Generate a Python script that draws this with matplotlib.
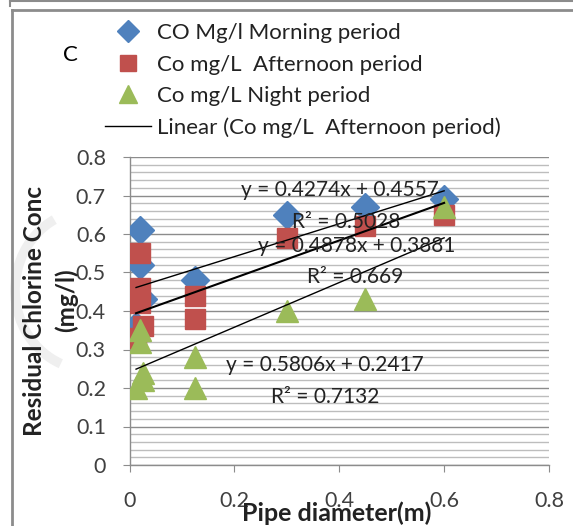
import matplotlib
matplotlib.use("Agg")
import matplotlib.pyplot as plt
import numpy as np
from matplotlib.lines import Line2D
from matplotlib.patches import Arc
from matplotlib.ticker import MultipleLocator, FuncFormatter

plt.rcParams['font.family'] = ['Lato', 'DejaVu Sans']

# Data
morning_x = [0.0125, 0.02, 0.02, 0.025, 0.125, 0.3, 0.45, 0.6]
morning_y = [0.36, 0.61, 0.52, 0.43, 0.48, 0.65, 0.67, 0.69]
afternoon_x = [0.0125, 0.02, 0.02, 0.02, 0.025, 0.125, 0.125, 0.3, 0.45, 0.6]
afternoon_y = [0.33, 0.55, 0.46, 0.42, 0.36, 0.44, 0.38, 0.59, 0.62, 0.65]
night_x = [0.0125, 0.02, 0.02, 0.025, 0.025, 0.125, 0.125, 0.3, 0.45, 0.6]
night_y = [0.20, 0.35, 0.32, 0.24, 0.22, 0.28, 0.20, 0.40, 0.43, 0.67]

# Trendline coefficients (from chart labels)
fit_labels = ["Morning", "Afternoon", "Night"]
slopes = [0.4274, 0.4878, 0.5806]
intercepts = [0.4557, 0.3881, 0.2417]
r2 = [0.5028, 0.669, 0.7132]
fit_range = [0.0125, 0.6]

blue = '#4F81BD'
red = '#C0504D'
green = '#9BBB59'

fig = plt.figure(figsize=(5.73, 5.26), dpi=100)
W, H = 573, 526

# faint watermark arc
wm = Arc((90 / W, 1 - 290 / H), 150 / W, 160 / H, theta1=115, theta2=250,
         color='#efefef', lw=7, transform=fig.transFigure)
fig.add_artist(wm)

ax = fig.add_axes([129.5 / W, 1 - 465 / H, (549 - 129.5) / W, (465 - 157) / H])
ax.patch.set_alpha(0)

ax.set_xlim(0, 0.8)
ax.set_ylim(0, 0.8)
ax.xaxis.set_major_locator(MultipleLocator(0.2))
ax.yaxis.set_major_locator(MultipleLocator(0.1))
ax.yaxis.set_minor_locator(MultipleLocator(0.02))
fmt = FuncFormatter(lambda v, p: '0' if abs(v) < 1e-9 else f'{v:.1f}')
ax.xaxis.set_major_formatter(fmt)
ax.yaxis.set_major_formatter(fmt)
ax.grid(axis='y', which='major', color='#8c8c8c', lw=1.0, zorder=0)
ax.grid(axis='y', which='minor', color='#bdbdbd', lw=1.0, zorder=0)
ax.set_axisbelow(True)

for s in ['top', 'right']:
    ax.spines[s].set_visible(False)
for s in ['left', 'bottom']:
    ax.spines[s].set_color('#8c8c8c')
    ax.spines[s].set_linewidth(1.0)
ax.tick_params(axis='both', which='major', direction='out', length=5, color='#8c8c8c',
               labelsize=15.5, labelcolor='#404040')
ax.tick_params(axis='y', which='minor', length=0)
ax.tick_params(axis='y', pad=12)
ax.tick_params(axis='x', pad=14)

ms = 15
ax.plot(morning_x, morning_y, 'D', color=blue, ms=ms * 0.95, mec=blue, zorder=3,
        label='CO Mg/l Morning period')
ax.plot(afternoon_x, afternoon_y, 's', color=red, ms=ms * 0.95, mec=red, zorder=4,
        label='Co mg/L  Afternoon period')
ax.plot(night_x, night_y, '^', color=green, ms=ms * 1.05, mec=green, zorder=5,
        label='Co mg/L Night period')

xf = np.array(fit_range)
lws = [1.0, 1.5, 1.0]
for m, b, lw in zip(slopes, intercepts, lws):
    ax.plot(xf, m * xf + b, color='black', lw=lw, zorder=6)

tkw = dict(fontsize=15, color='#222222', ha='center', va='center', zorder=7)
ax.text(0.401, 0.714, f"y = {slopes[0]}x + {intercepts[0]}", **tkw)
ax.text(0.414, 0.631, f"R² = {r2[0]}", **tkw)
ax.text(0.433, 0.569, f"y = {slopes[1]}x + {intercepts[1]}", **tkw)
ax.text(0.430, 0.488, f"R² = {r2[1]}", **tkw)
ax.text(0.372, 0.260, f"y = {slopes[2]}x + {intercepts[2]}", **tkw)
ax.text(0.374, 0.177, f"R² = {r2[2]}", **tkw)

# Axis labels
fig.text(35 / W, 1 - 311 / H, 'Residual Chlorine Conc', rotation=90, ha='center', va='center',
         fontsize=17.5, fontweight='bold', color='#222222')
fig.text(66 / W, 1 - 300 / H, '(mg/l)', rotation=90, ha='center', va='center',
         fontsize=17.5, fontweight='bold', color='#222222')
fig.text(337 / W, 1 - 521 / H, 'Pipe diameter(m)', ha='center', va='baseline',
         fontsize=18, fontweight='bold', color='#222222')

fig.text(70 / W, 1 - 55 / H, 'C', ha='center', va='center', fontsize=16, color='black')

# Legend
handles = [
    Line2D([], [], marker='D', ls='none', color=blue, ms=11),
    Line2D([], [], marker='s', ls='none', color=red, ms=12),
    Line2D([], [], marker='^', ls='none', color=green, ms=13),
    Line2D([], [], color='black', lw=1.0),
]
labels = ['CO Mg/l Morning period', 'Co mg/L  Afternoon period', 'Co mg/L Night period',
          'Linear (Co mg/L  Afternoon period)']
fig.legend(handles, labels, loc='upper left', bbox_to_anchor=(105 / W, 1 - 23 / H),
           frameon=False, fontsize=16, handlelength=2.05, handletextpad=0.28,
           labelspacing=0.52, borderaxespad=0, borderpad=0, labelcolor='#222222')

# Outer frame lines
fig.add_artist(Line2D([12 / W, 1], [1 - 10 / H, 1 - 10 / H], color='#8c8c8c', lw=2,
                      transform=fig.transFigure))
fig.add_artist(Line2D([12 / W, 12 / W], [0, 1 - 10 / H], color='#8c8c8c', lw=2,
                      transform=fig.transFigure))
fig.add_artist(Line2D([10 / W, 1], [1 - 1 / H, 1 - 1 / H], color='#8c8c8c', lw=1.5,
                      transform=fig.transFigure))
fig.add_artist(Line2D([10 / W, 10 / W], [1 - 6 / H, 1], color='#8c8c8c', lw=1.5,
                      transform=fig.transFigure))

fig.savefig('out.png', dpi=100)
